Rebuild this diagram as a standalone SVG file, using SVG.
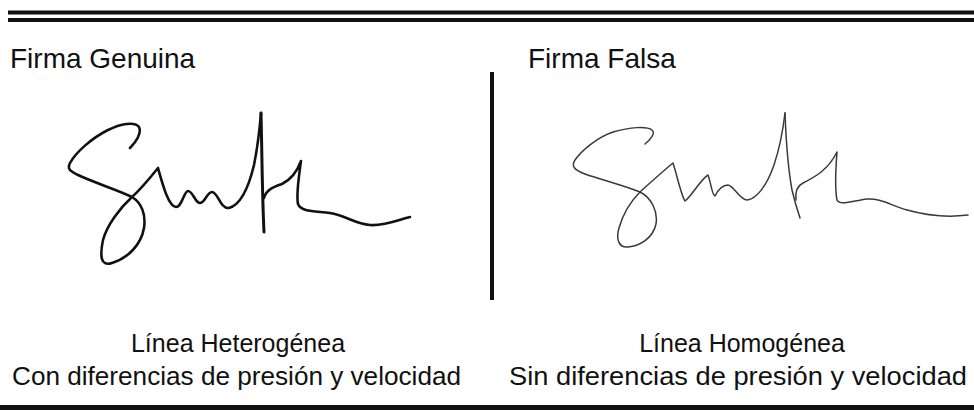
<svg xmlns="http://www.w3.org/2000/svg" width="974" height="410" viewBox="0 0 974 410">
<style>
.t{font-family:"Liberation Sans",Arial,sans-serif;fill:#111}
.title{font-size:28px}
.cap{font-size:25px}
.real{fill:none;stroke:#111;stroke-width:2.6;stroke-linecap:round;stroke-linejoin:round}
.fake{fill:none;stroke:#3a3a3a;stroke-width:1.5;stroke-linecap:round;stroke-linejoin:round}
</style>
<rect width="974" height="410" fill="#fff"/>
<g id="rules">
<rect x="8" y="10.5" width="966" height="4" fill="#111"/>
<rect x="8" y="18" width="966" height="4" fill="#111"/>
<rect x="490" y="72" width="4" height="228" fill="#111"/>
<rect x="0" y="405" width="974" height="5" fill="#111"/>
</g>
<g id="genuine">
<text class="t title" x="10" y="68">Firma Genuina</text>
<path class="real" d="M130,148 C136,142 142,133 139,127 C135,121 120,124 108,130 C92,138 76,152 70,163 C67,169 70,171 78,175 C95,183 118,190 132,197 C142,203 146,215 144,228 C141,245 128,258 112,263 C100,267 100,255 103,240 C107,225 120,208 132,197 C142,188 150,178 158,168 C162,182 168,206 176,207 C182,207 184,191 188,191 C193,191 195,203 200,203 C205,203 207,192 212,192 C218,192 220,209 229,208 C240,205 248,190 254,165 C258,145 260,125 261,113"/>
<path class="real" style="stroke-width:3" d="M261,113 C262,150 262,190 264,232"/>
<path class="real" d="M264,198 C266,190 273,187 282,184 C290,180 297,172 301,161 C299,175 296,195 298,204 C301,212 315,211 330,213 C345,215 355,224 370,225 C385,226 398,220 410,217"/>
<text class="t cap" x="238" y="352" text-anchor="middle">Línea Heterogénea</text>
<text class="t cap" x="12" y="385" textLength="449" lengthAdjust="spacingAndGlyphs">Con diferencias de presión y velocidad</text>
</g>
<g id="fake">
<text class="t title" x="528" y="68">Firma Falsa</text>
<path class="fake" d="M645,144 C650,140 656,133 652,130 C647,126 630,127 613,132 C598,137 582,150 575,160 C571,166 574,170 585,174 C602,180 622,185 640,192 C652,198 658,212 656,224 C653,238 640,246 628,247 C618,248 616,238 619,228 C623,214 630,202 640,192 C650,183 662,172 673,163 C677,175 681,195 685,201 C692,196 700,180 708,175 C711,183 712,195 715,196 C718,190 723,185 728,185 C734,186 740,200 747,200 C757,199 767,185 774,165 C779,150 783,130 785,113"/>
<path class="fake" d="M785,113 C786,140 788,168 792,190 C795,203 798,212 800,218"/>
<path class="fake" d="M796,200 C795,192 797,186 803,183 C815,177 828,170 837,152 C836,165 835,190 837,200 C840,206 852,201 867,199 C880,198 890,205 907,210 C925,215 945,218 968,215"/>
<text class="t cap" x="742" y="352" text-anchor="middle">Línea Homogénea</text>
<text class="t cap" x="509" y="385" textLength="458" lengthAdjust="spacingAndGlyphs">Sin diferencias de presión y velocidad</text>
</g>
</svg>
